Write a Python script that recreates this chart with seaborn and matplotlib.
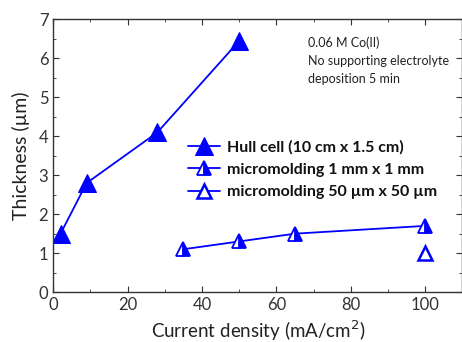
import matplotlib
matplotlib.use("Agg")
import matplotlib.pyplot as plt
import seaborn as sns
from matplotlib.ticker import MultipleLocator

# data
hull_x = [2, 9, 28, 50]
hull_y = [1.5, 2.8, 4.1, 6.45]
mm1_x = [35, 50, 65, 100]
mm1_y = [1.1, 1.3, 1.5, 1.7]
um50_x = [100]
um50_y = [1.0]
labels = ["Hull cell (10 cm x 1.5 cm)", "micromolding 1 mm x 1 mm",
          "micromolding 50 \u00b5m x 50 \u00b5m"]

sns.set_style("ticks")
plt.rcParams['font.family'] = ['Lato', 'DejaVu Sans']

blue = "#0000ff"
fig = plt.figure(figsize=(4.62, 3.42), dpi=100)
ax = fig.add_axes([0.115, 0.146, 0.886, 0.797])

sns.lineplot(x=hull_x, y=hull_y, ax=ax, color=blue, marker="^", markersize=13,
             markeredgecolor=blue, linewidth=1.3, label=labels[0])
sns.lineplot(x=mm1_x, y=mm1_y, ax=ax, color=blue, marker="^", markersize=10,
             fillstyle="right", markerfacecolor=blue, markerfacecoloralt="white",
             markeredgecolor=blue, markeredgewidth=1.3, linewidth=1.3, label=labels[1])
sns.lineplot(x=um50_x, y=um50_y, ax=ax, color=blue, marker="^", markersize=10,
             markerfacecolor="white", markeredgecolor=blue, markeredgewidth=1.8,
             linewidth=1.3, label=labels[2])

ax.set_xlim(0, 110)
ax.set_ylim(0, 7)
ax.xaxis.set_major_locator(MultipleLocator(20))
ax.xaxis.set_minor_locator(MultipleLocator(10))
ax.yaxis.set_major_locator(MultipleLocator(1))
ax.yaxis.set_minor_locator(MultipleLocator(0.5))
ax.tick_params(which="both", direction="in", top=True, right=True,
               labelsize=12, colors="#333333", labelcolor="#333333")
ax.tick_params(which="major", length=4)
ax.tick_params(which="minor", length=2)
for s in ax.spines.values():
    s.set_color("#333333")
    s.set_linewidth(1)

ax.set_xlabel("Current density (mA/cm$^2$)", fontsize=13.5, color="#222222", labelpad=4)
ax.set_ylabel("Thickness (\u00b5m)", fontsize=14, color="#222222", labelpad=6)

note = ax.text(0, 0, "0.06 M Co(II)\nNo supporting electrolyte\ndeposition 5 min",
               fontsize=9, color="#222222", va="top", linespacing=1.6)
note.set_transform(fig.dpi_scale_trans)
note.set_position((308 / 100, (342 - 36) / 100))

leg = ax.legend(loc="upper left", bbox_to_anchor=(0.315, 0.58), frameon=False,
                fontsize=11.5, handlelength=2.0, handletextpad=0.4,
                labelspacing=0.5, borderaxespad=0)
for t in leg.get_texts():
    t.set_fontweight("bold")
    t.set_color("#111111")

fig.savefig("out.png", dpi=100)
